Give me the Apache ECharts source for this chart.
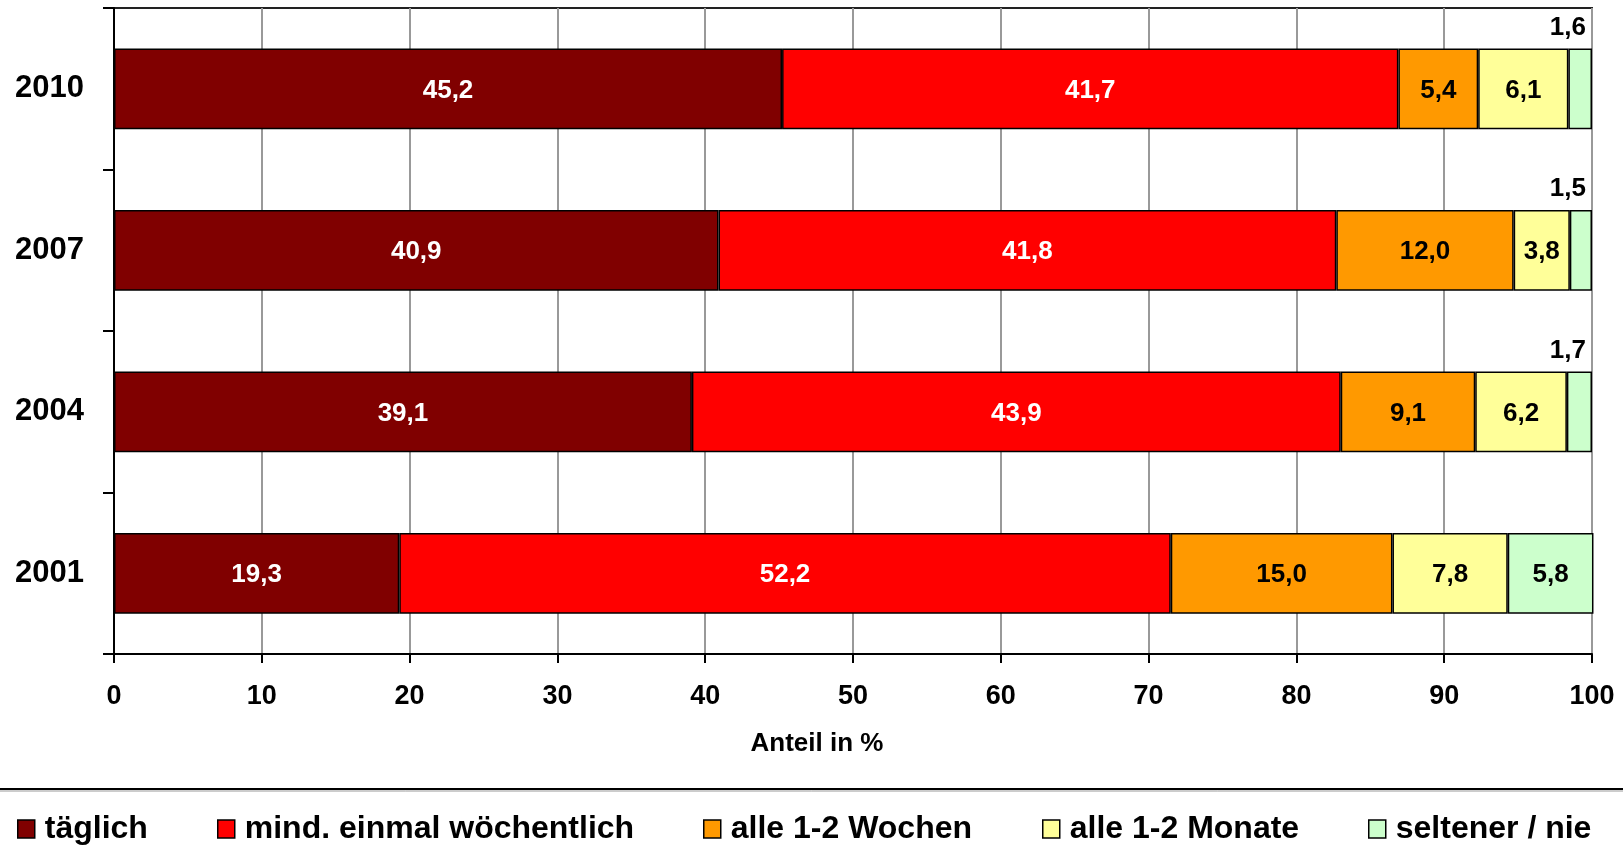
<!DOCTYPE html>
<html>
<head>
<meta charset="utf-8">
<script src="https://cdn.jsdelivr.net/npm/echarts@6/dist/echarts.min.js"></script>
<style>
  html, body { margin: 0; padding: 0; background: #fff; }
  #chart { width: 1623px; height: 860px; }
</style>
</head>
<body>
<div id="chart"></div>
<script>
// Survey years (bottom to top on the category axis)
const years = ['2001', '2004', '2007', '2010'];

// Answer categories, in stacking order
const seriesNames = ['täglich', 'mind. einmal wöchentlich', 'alle 1-2 Wochen', 'alle 1-2 Monate', 'seltener / nie'];

// Shares in % per year (2001, 2004, 2007, 2010)
const taeglich      = [19.3, 39.1, 40.9, 45.2];
const woechentlich  = [52.2, 43.9, 41.8, 41.7];
const alle12Wochen  = [15.0,  9.1, 12.0,  5.4];
const alle12Monate  = [ 7.8,  6.2,  3.8,  6.1];
const seltenerNie   = [ 5.8,  1.7,  1.5,  1.6];

// Value axis range and step
const xMin = 0, xMax = 100, xStep = 10;
const xAxisName = 'Anteil in %';

const FONT = '"Liberation Sans", Arial, Helvetica, sans-serif';
const fmt = v => v.toFixed(1).replace('.', ',');

// Narrow segments carry their label above the bar's right end
function makeSeries(name, values, color, textColor) {
  return {
    name: name,
    type: 'bar',
    stack: 'total',
    barWidth: '50%',
    clip: false,
    emphasis: { disabled: true },
    itemStyle: { color: color, borderColor: '#000', borderWidth: 1.5 },
    label: {
      show: true,
      position: 'inside',
      offset: [0, 2],
      color: textColor,
      fontSize: 26,
      fontWeight: 'bold',
      fontFamily: FONT,
      formatter: p => fmt(p.value)
    },
    data: values.map(v => v < 3
      ? { value: v, label: { position: ['100%', 0], offset: [-6, -21], align: 'right', verticalAlign: 'middle', color: '#000' } }
      : v)
  };
}

const colors = ['#800000', '#FF0000', '#FF9900', '#FFFF99', '#CCFFCC'];
const labelColors = ['#fff', '#fff', '#000', '#000', '#000'];
const values = [taeglich, woechentlich, alle12Wochen, alle12Monate, seltenerNie];
const legendLeft = [17, 217, 703, 1042, 1368];

const chart = echarts.init(document.getElementById('chart'), null, { renderer: 'canvas' });

chart.setOption({
  backgroundColor: '#fff',
  animation: false,
  grid: {
    left: 114, right: 31, top: 8, bottom: 206,
    show: true, borderColor: '#222', borderWidth: 2, backgroundColor: 'transparent'
  },
  xAxis: {
    type: 'value',
    min: xMin, max: xMax, interval: xStep,
    name: xAxisName,
    nameLocation: 'middle',
    nameGap: 77,
    nameTextStyle: { fontSize: 26, fontWeight: 'bold', color: '#000', fontFamily: FONT, padding: [0, 72, 0, 0] },
    axisLine: { show: true, lineStyle: { color: '#000', width: 2 } },
    axisTick: { show: true, length: 9, lineStyle: { color: '#000', width: 2 } },
    axisLabel: { margin: 29, fontSize: 27, fontWeight: 'bold', color: '#000', fontFamily: FONT },
    splitLine: { show: true, lineStyle: { color: '#999', width: 2 } }
  },
  yAxis: {
    type: 'category',
    data: years,
    axisLine: { show: true, lineStyle: { color: '#000', width: 2 } },
    axisTick: { show: true, length: 11, lineStyle: { color: '#000', width: 2 } },
    axisLabel: { margin: 30, fontSize: 31, fontWeight: 'bold', color: '#000', fontFamily: FONT, padding: [8, 0, 0, 0] },
    splitLine: { show: false }
  },
  legend: seriesNames.map((n, i) => ({
    data: [n],
    left: legendLeft[i],
    top: 813,
    padding: 0,
    itemWidth: 17,
    itemHeight: 18,
    icon: 'rect',
    selectedMode: false,
    itemStyle: { borderColor: '#000', borderWidth: 1.5 },
    textStyle: { fontSize: 32, fontWeight: 'bold', color: '#000', fontFamily: FONT, padding: [2, 0, 0, 5] }
  })),
  graphic: [
    { type: 'line', shape: { x1: 0, y1: 789, x2: 1623, y2: 789 }, style: { stroke: '#000', lineWidth: 2 } },
    { type: 'line', shape: { x1: 0, y1: 791, x2: 1623, y2: 791 }, style: { stroke: '#999', lineWidth: 1 } }
  ],
  series: seriesNames.map((n, i) => makeSeries(n, values[i], colors[i], labelColors[i]))
});
</script>
</body>
</html>
